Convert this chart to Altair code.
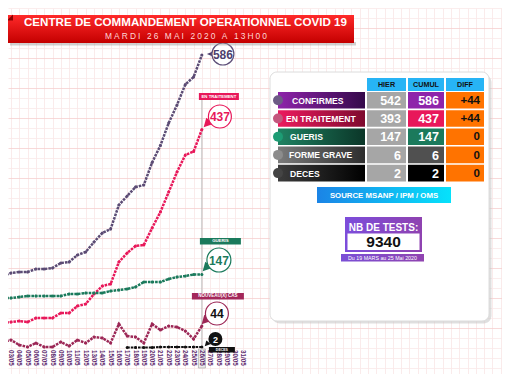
import altair as alt
import pandas as pd

# ---------------- data ----------------
days = list(range(2, 27))  # May 2 .. May 26
confirmes = [144, 150, 152, 152, 158, 158, 160, 170, 172, 186, 192, 212, 230, 238,
             286, 304, 322, 326, 371, 405, 450, 486, 527, 542, 586]
traitement = [50, 52, 54, 52, 60, 60, 60, 70, 70, 84, 88, 108, 124, 128,
              172, 190, 204, 206, 240, 272, 312, 352, 386, 393, 437]
gueris = [100, 100, 102, 104, 104, 104, 104, 104, 108, 108, 110, 110, 110, 114,
          116, 118, 122, 132, 132, 132, 138, 142, 144, 147, 147]
nouveaux = [12, 16, 6, 2, 10, 2, 2, 12, 4, 16, 10, 22, 20, 10,
            48, 24, 22, 10, 48, 36, 44, 42, 34, 18, 44]
deces_days = list(range(17, 27))
deces = [1, 1, 1, 1, 2, 2, 2, 2, 2, 2]
label_days = list(range(3, 32))
date_labels = [f"{d:02d}/05" for d in label_days]

table_rows = ["CONFIRMES", "EN TRAITEMENT", "GUERIS", "FORME GRAVE", "DECES"]
hier = [542, 393, 147, 6, 2]
cumul = [586, 437, 147, 6, 2]
diff = ["+44", "+44", "0", "0", "0"]
headers = ["HIER", "CUMUL", "DIFF"]
nb_tests = "9340"
title = "CENTRE DE COMMANDEMENT OPERATIONNEL COVID 19"
subtitle = "MARDI 26 MAI 2020 A 13H00"
source = "SOURCE MSANP / IPM / OMS"
tests_title = "NB DE TESTS:"
tests_period = "Du 19 MARS au 25 Mai 2020"
today = 26

# ---------------- layout ----------------
W, H = 494, 366
FONT = "Liberation Sans"
XMIN = 3 - 3 / 8.3
XMAX = XMIN + W / 8.3
YMIN, YMAX = -52, 680
XT = 11 + (today - 3) * 8.3  # page x of today

ONE = pd.DataFrame({"k": [0]})

xaxis = alt.Axis(values=list(range(3, 63)), grid=True, gridColor="#f9e6e6", gridWidth=0.8,
                 labels=False, ticks=False, domain=False, title=None)
yaxis = alt.Axis(values=list(range(-40, 681, 20)), grid=True,
                 gridColor={"condition": {"test": "datum.value % 60 == 40", "value": "#f6cfcf"},
                            "value": "#fae8e8"},
                 gridWidth=0.8, labels=False, ticks=False, domain=False, title=None)
X = alt.X("day:Q", scale=alt.Scale(domain=[XMIN, XMAX], nice=False, zero=False), axis=xaxis)
Y = alt.Y("v:Q", scale=alt.Scale(domain=[YMIN, YMAX], nice=False, zero=False), axis=yaxis)


def box(x1, y1, x2, y2, fill, **kw):
    return alt.Chart(ONE).mark_rect(fill=fill, **kw).encode(
        x=alt.value(x1 - 8), x2=alt.value(x2 - 8), y=alt.value(y1 - 8), y2=alt.value(y2 - 8))


def txt(x, y, s, size, color, weight="bold", align="center", font=FONT, **kw):
    return alt.Chart(ONE).mark_text(align=align, baseline="middle", fontSize=size,
                                    fontWeight=weight, color=color, font=font, **kw).encode(
        x=alt.value(x - 8), y=alt.value(y - 8), text=alt.value(s))


def sym(x, y, size, fill, shape="circle", stroke=None, sw=0):
    kw = dict(shape=shape, filled=True, fill=fill, size=size, opacity=1, fillOpacity=1)
    if stroke:
        kw.update(stroke=stroke, strokeWidth=sw, strokeOpacity=1)
    else:
        kw.update(strokeWidth=0)
    return alt.Chart(ONE).mark_point(**kw).encode(x=alt.value(x - 8), y=alt.value(y - 8))


def grad(c1, c2, vertical=False):
    return {"gradient": "linear", "stops": [{"offset": 0, "color": c1}, {"offset": 1, "color": c2}],
            "x1": 0, "y1": 0, "x2": 0 if vertical else 1, "y2": 1 if vertical else 0}


def series(ds, vals, color, dash=(2.6, 1.0), sw=2.5, ptsize=9):
    df = pd.DataFrame({"day": ds, "v": vals})
    base = alt.Chart(df).encode(x=X, y=Y)
    return [base.mark_line(color=color, strokeWidth=sw, strokeDash=list(dash), clip=True),
            base.mark_point(filled=True, color=color, size=ptsize, opacity=1, clip=True)]


layers = []
# grid carrier
layers.append(alt.Chart(pd.DataFrame({"day": days, "v": confirmes})).mark_line(opacity=0).encode(x=X, y=Y))

# today rule
layers.append(alt.Chart(pd.DataFrame({"day": [today]})).mark_rule(color="#b8b8b8", strokeWidth=1).encode(
    x=X, y=alt.value(100 - 8), y2=alt.value(347 - 8)))

# series
layers += series(days, confirmes, "#5b4b74")
layers += series(days, traitement, "#e8185a")
layers += series(days, gueris, "#1b7a5c")
layers += series(days, nouveaux, "#9c2756")
layers += series(deces_days, deces, "#111111", sw=2.2)

# bubbles
TAIL_L = "M -1 0 L 0.9 -0.8 L 0.9 0.8 Z"
TAIL_DL = "M -1 1 L -0.5 -0.8 L 0.95 0.35 Z"
d = XT - 200
# 586
layers.append(sym(210 + d, 54, 100, "#4e3f6e", shape=TAIL_L))
layers.append(sym(221 + d, 54, 3.1416 * 11 ** 2 * 1.27, "white", stroke="#5d4e78", sw=1.2))
layers.append(txt(221 + d, 54.5, str(cumul[0]), 12, "#4e3f6e"))
# 437
layers.append(box(197 + d, 93, 237 + d, 100, "#e8185a"))
layers.append(txt(217 + d, 96.7, "EN TRAITEMENT", 4.3, "white"))
layers.append(sym(207 + d, 122, 110, "#e8185a", shape=TAIL_DL))
layers.append(sym(218 + d, 116.5, 3.1416 * 11.5 ** 2 * 1.27, "white", stroke="#e8185a", sw=1.2))
layers.append(txt(218 + d, 117, str(cumul[1]), 12, "#e8185a"))
# 147
layers.append(box(198 + d, 238, 239 + d, 244.5, "#1b7a5c"))
layers.append(txt(218.5 + d, 241.4, "GUERIS", 4.3, "white"))
layers.append(sym(206 + d, 266, 110, "#1b7a5c", shape=TAIL_DL))
layers.append(sym(217 + d, 260, 3.1416 * 12 ** 2 * 1.27, "white", stroke="#1b7a5c", sw=1.2))
layers.append(txt(217 + d, 260.5, str(cumul[2]), 12, "#1b7a5c"))
# 44
layers.append(box(190 + d, 293, 242 + d, 299.5, "#a3275a"))
layers.append(txt(216 + d, 296.4, "NOUVEAU(X) CAS", 4.5, "white"))
layers.append(sym(205 + d, 319, 110, "#9c2756", shape=TAIL_DL))
layers.append(sym(215 + d, 313.5, 3.1416 * 11.5 ** 2 * 1.27, "white", stroke="#9c2756", sw=1.2))
layers.append(txt(215 + d, 314, diff[0].lstrip("+"), 12, "#111111"))
# deaths 2
layers.append(sym(206 + d, 343, 40, "#111111", shape=TAIL_DL))
layers.append(sym(213.5 + d, 339, 3.1416 * 7 ** 2 * 1.27, "#111111"))
layers.append(txt(213.5 + d, 339.5, str(cumul[4]), 9, "white"))

# x labels
layers.append(box(XT - 3.5, 349, XT + 3.5, 368, "#ececec", stroke="#9a9a9a", strokeWidth=0.6))
layers.append(alt.Chart(pd.DataFrame({"day": label_days, "lab": date_labels})).mark_text(
    angle=90, align="left", baseline="middle", fontSize=6.3, fontWeight="bold",
    color="#5b2a6e", font=FONT).encode(x=X, y=alt.value(350 - 8), text="lab:N"))
layers.append(box(207 + d, 347, 233 + d, 352.5, "#111111"))
layers.append(txt(220 + d, 349.8, "DECES", 3.5, "white"))

# ---------------- panel ----------------
layers.append(box(272, 74.5, 491.5, 323.5, "#c4c4c4", cornerRadius=8, opacity=0.55))
layers.append(box(270, 72, 489, 321, "white", cornerRadius=7, stroke="#dcdcdc", strokeWidth=1))

col_x = [(367, 406), (408, 444), (446, 484)]
for (a, b), h in zip(col_x, headers):
    layers.append(box(a, 78, b, 91, "#27b4f5"))
    layers.append(txt((a + b) / 2, 85, h, 7.2, "#111111"))

label_grads = [("#8e24aa", "#35094a"), ("#ec1a5e", "#7e0a2e"), ("#1f8262", "#0b3628"),
               ("#7a7a7a", "#2e2e2e"), ("#3c3c3c", "#000000")]
dots = ["#6d5c86", "#c4577e", "#1d9c74", "#8c8c8c", "#444444"]
cumul_fill = ["#8e24aa", "#e8185a", "#1b7a5c", "#505050", "#000000"]
label_left = [292, 286, 290, 289, 290]
for i, name in enumerate(table_rows):
    top = 92 + i * 18.2
    bot = top + 16.6
    mid = (top + bot) / 2
    layers.append(box(278, top, 365, bot, grad(*label_grads[i])))
    layers.append(sym(278, mid, 3.1416 * 5 ** 2 * 1.27, dots[i]))
    layers.append(txt(label_left[i], mid + 0.5, name, 8.6, "white", align="left"))
    layers.append(box(367, top, 406, bot, "#a6a6a6"))
    layers.append(txt(401, mid + 0.7, str(hier[i]), 12.5, "white", align="right"))
    layers.append(box(408, top, 444, bot, cumul_fill[i]))
    layers.append(txt(439, mid + 0.7, str(cumul[i]), 12.5, "white", align="right"))
    layers.append(box(446, top, 484, bot, "#ff7300"))
    layers.append(txt(480, mid + 0.7, diff[i], 11.5, "#111111", align="right"))

layers.append(box(317, 187, 451, 203, grad("#1b84e6", "#06e2fb")))
layers.append(txt(384, 195.5, source, 7.8, "white"))

layers.append(box(345, 217, 422, 252, grad("#7c4ddb", "#8f42b0")))
layers.append(txt(383.5, 227.5, tests_title, 10, "white"))
layers.append(box(347.5, 233.5, 419.5, 250, "white"))
layers.append(txt(383.5, 242, nb_tests, 15.5, "#111111"))
layers.append(box(341, 254, 424, 261.5, grad("#7a4fd6", "#9044b0")))
layers.append(txt(382.5, 258, tests_period, 5.3, "white", weight="normal"))

# ---------------- title banner ----------------
layers.append(box(10, 42, 356, 45.5, "#9a9a9a", opacity=0.45))
layers.append(box(8, 15, 354, 43, grad("#ff2a2a", "#c40000", vertical=True)))
layers.append(sym(10, 17.5, 36, "#8c0000", shape="M -1 1 L 1 -1 L 1 1 Z"))
layers.append(txt(24, 23, title, 11.6, "white", align="left"))
sp = "\u2005"
layers.append(txt(186, 35.5, sp.join(list(subtitle)), 8.4, "#ffd6d6", weight="normal"))

chart = alt.layer(*layers).properties(
    width=W, height=H, padding=0, autosize="none", background="white"
).configure_view(strokeWidth=0)

chart.save("out.html", embed_options={"renderer": "svg", "actions": False})
